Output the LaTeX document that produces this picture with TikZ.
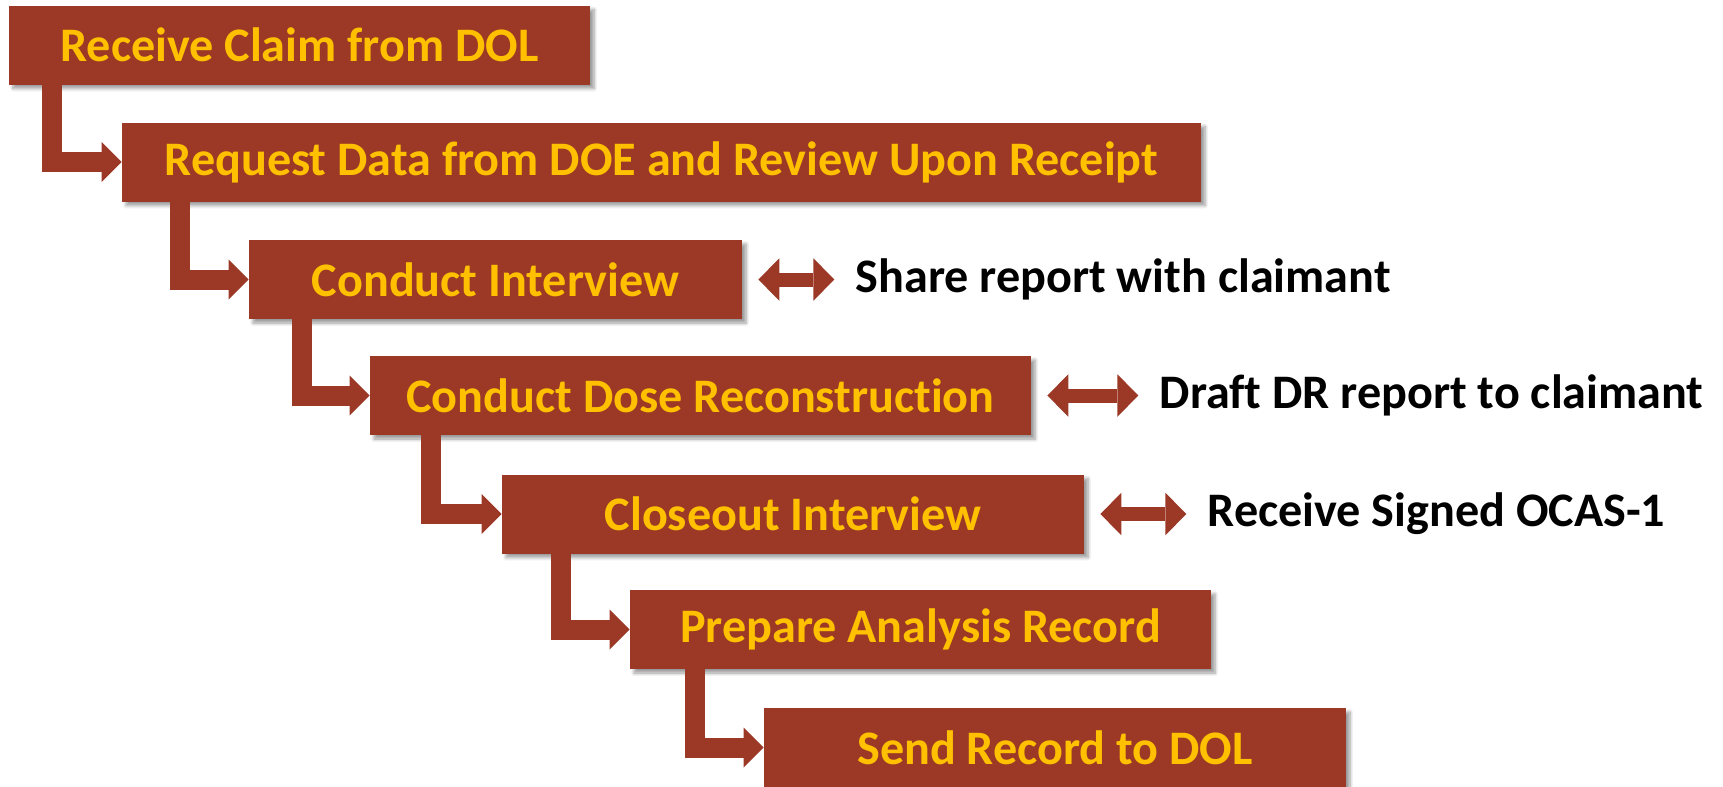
\documentclass[tikz,border=0pt]{standalone}
\usepackage{fontspec}
\setmainfont{Carlito}[Ligatures = NoCommon]
\usetikzlibrary{arrows.meta}
\usetikzlibrary{positioning}
\usetikzlibrary{shadows.blur}
\definecolor{brick}{RGB}{155,57,38}
\definecolor{gold}{RGB}{255,192,0}

\begin{document}
\begin{tikzpicture}
	\tikzstyle{stepBox}=[fill = brick, text = gold, font = \fontsize{27.4}{31}\selectfont\bfseries, minimum height = 1.58cm, inner sep = 0pt, blur shadow = {shadow xshift = 0.08cm, shadow yshift = -0.08cm, shadow blur steps = 6, shadow opacity = 40}]
	\tikzstyle{noteStyle}=[anchor = west, inner sep = 0pt, font = \fontsize{27.4}{31}\selectfont\bfseries]
	\tikzstyle{flowArrow}=[draw = brick, line width = 0.4cm, line join = miter, -{Triangle[length = 0.4cm, width = 0.8cm, line width = 0pt]}]
	\tikzstyle{sideArrow}=[draw = brick, line width = 0.28cm, {Triangle[length = 0.42cm, width = 0.85cm, line width = 0pt]}-{Triangle[length = 0.42cm, width = 0.85cm, line width = 0pt]}, shorten <= 0.32cm, shorten >= 0.42cm]
	\useasboundingbox (0,0) rectangle (34.46,-15.72);
	\node[stepBox, minimum width = 11.62cm] (receive) at (5.99,-0.90) {Receive Claim from DOL};
	\node[stepBox, minimum width = 21.58cm] (request) at (13.23,-3.24) {Request Data from DOE and Review Upon Receipt};
	\node[stepBox, minimum width = 9.86cm] (interview) at (9.91,-5.59) {Conduct Interview};
	\node[stepBox, minimum width = 13.22cm] (dose) at (14.01,-7.91) {Conduct Dose Reconstruction};
	\node[stepBox, minimum width = 11.64cm] (closeout) at (15.86,-10.28) {Closeout Interview};
	\node[stepBox, minimum width = 11.62cm] (prepare) at (18.41,-12.59) {Prepare Analysis Record};
	\node[stepBox, minimum width = 11.64cm] (send) at (21.10,-14.95) {Send Record to DOL};
	\node[noteStyle, right = 2.26cm of interview] (share) {Share report with claimant};
	\node[noteStyle, right = 2.56cm of dose] (draft) {Draft DR report to claimant};
	\node[noteStyle, right = 2.46cm of closeout] (signed) {Receive Signed OCAS-1};
	\draw[flowArrow] ([xshift = 0.87cm]receive.south west) |- (request.west);
	\draw[flowArrow] ([xshift = 1.16cm]request.south west) |- (interview.west);
	\draw[flowArrow] ([xshift = 1.06cm]interview.south west) |- (dose.west);
	\draw[flowArrow] ([xshift = 1.22cm]dose.south west) |- (closeout.west);
	\draw[flowArrow] ([xshift = 1.18cm]closeout.south west) |- (prepare.west);
	\draw[flowArrow] ([xshift = 1.30cm]prepare.south west) |- (send.west);
	\draw[sideArrow] (interview.east) -- (share.west);
	\draw[sideArrow] (dose.east) -- (draft.west);
	\draw[sideArrow] (closeout.east) -- (signed.west);
\end{tikzpicture}
\end{document}
